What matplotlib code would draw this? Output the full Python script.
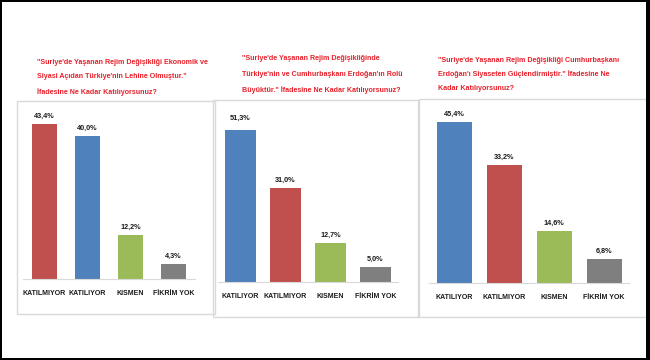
import matplotlib
matplotlib.use('Agg')
from matplotlib import pyplot as plt
from matplotlib.patches import Rectangle

W, H = 650, 360

titles1 = ['"Suriye\'de Yaşanan Rejim Değişikliği Ekonomik ve',
           'Siyasi Açıdan Türkiye\'nin Lehine Olmuştur."',
           'İfadesine Ne Kadar Katılıyorsunuz?']
titles2 = ['"Suriye\'de Yaşanan Rejim Değişikliğinde',
           'Türkiye\'nin ve Cumhurbaşkanı Erdoğan\'ın Rolü',
           'Büyüktür." İfadesine Ne Kadar Katılıyorsunuz?']
titles3 = ['"Suriye\'de Yaşanan Rejim Değişikliği Cumhurbaşkanı',
           'Erdoğan\'ı Siyaseten Güçlendirmiştir." İfadesine Ne',
           'Kadar Katılıyorsunuz?']
cats1 = ['KATILMIYOR', 'KATILIYOR', 'KISMEN', 'FİKRİM YOK']
vals1 = [43.4, 40.0, 12.2, 4.3]
cats2 = ['KATILIYOR', 'KATILMIYOR', 'KISMEN', 'FİKRİM YOK']
vals2 = [51.3, 31.0, 12.7, 5.0]
cats3 = ['KATILIYOR', 'KATILMIYOR', 'KISMEN', 'FİKRİM YOK']
vals3 = [45.4, 33.2, 14.6, 6.8]

RED, BLUE, GREEN, GRAY = '#C0504D', '#4F81BD', '#9BBB59', '#7F7F7F'
colors1 = [RED, BLUE, GREEN, GRAY]
colors2 = [BLUE, RED, GREEN, GRAY]
colors3 = [BLUE, RED, GREEN, GRAY]

FONT = ['Liberation Sans', 'DejaVu Sans']

fig = plt.figure(figsize=(6.5, 3.6), dpi=100)
fig.patch.set_facecolor('white')


def fx(x):
    return x / W


def fy(y):
    return 1 - y / H


def frame(x0, y0, x1, y1):
    fig.add_artist(Rectangle((fx(x0), fy(y1)), fx(x1 - x0), (y1 - y0) / H,
                             transform=fig.transFigure, fill=False,
                             ec='#D9D9D9', lw=1.0))


# panel frames
frame(17, 101, 215, 314)
frame(213, 100, 418, 317)
frame(419, 99, 660, 317)

# x0, x1, baseline, px per %, bar width, title x, title line y's
panels = [
    (cats1, vals1, colors1, titles1, 23, 195, 279, 3.57, 0.58, 37, [62, 77, 92]),
    (cats2, vals2, colors2, titles2, 218, 398, 282, 3.04, 0.71, 242, [59, 74, 90]),
    (cats3, vals3, colors3, titles3, 429, 629, 283, 3.55, 0.70, 438, [60, 74, 88]),
]

for cats, vals, cols, tlines, x0, x1, base, scale, bw, tx, tys in panels:
    top = 50.0
    hpx = top * scale
    ax = fig.add_axes([fx(x0), fy(base), fx(x1 - x0), hpx / H])
    ax.bar(range(len(vals)), vals, width=bw, color=cols)
    ax.set_xlim(-0.5, len(vals) - 0.5)
    ax.set_ylim(0, top)
    ax.set_facecolor('none')
    for s in ['top', 'left', 'right']:
        ax.spines[s].set_visible(False)
    ax.spines['bottom'].set_color('#D9D9D9')
    ax.set_yticks([])
    ax.set_xticks(range(len(cats)))
    ax.set_xticklabels(cats, fontsize=5, fontweight='bold', family=FONT, color='#1a1a1a')
    ax.tick_params(axis='x', length=0, pad=8)
    for i, v in enumerate(vals):
        ax.annotate(('%.1f' % v).replace('.', ',') + '%', (i, v), xytext=(0, 3),
                    textcoords='offset points', ha='center', va='bottom',
                    fontsize=5.2, fontweight='bold', family=FONT, color='#1a1a1a',
                    annotation_clip=False)
    for line, ly in zip(tlines, tys):
        fig.text(fx(tx), fy(ly), line, ha='left', va='center', color='#E8202A',
                 fontsize=5.1, fontweight='bold', family=FONT)

# black outer border
for (x, y, w, h) in [(0, 0, 2, H), (W - 4, 0, 4, H), (0, 0, W, 2), (0, H - 2, W, 2)]:
    fig.add_artist(Rectangle((fx(x), fy(y + h)), fx(w), h / H,
                             transform=fig.transFigure, color='black', lw=0))

fig.savefig('out.png', dpi=100, facecolor='white')
